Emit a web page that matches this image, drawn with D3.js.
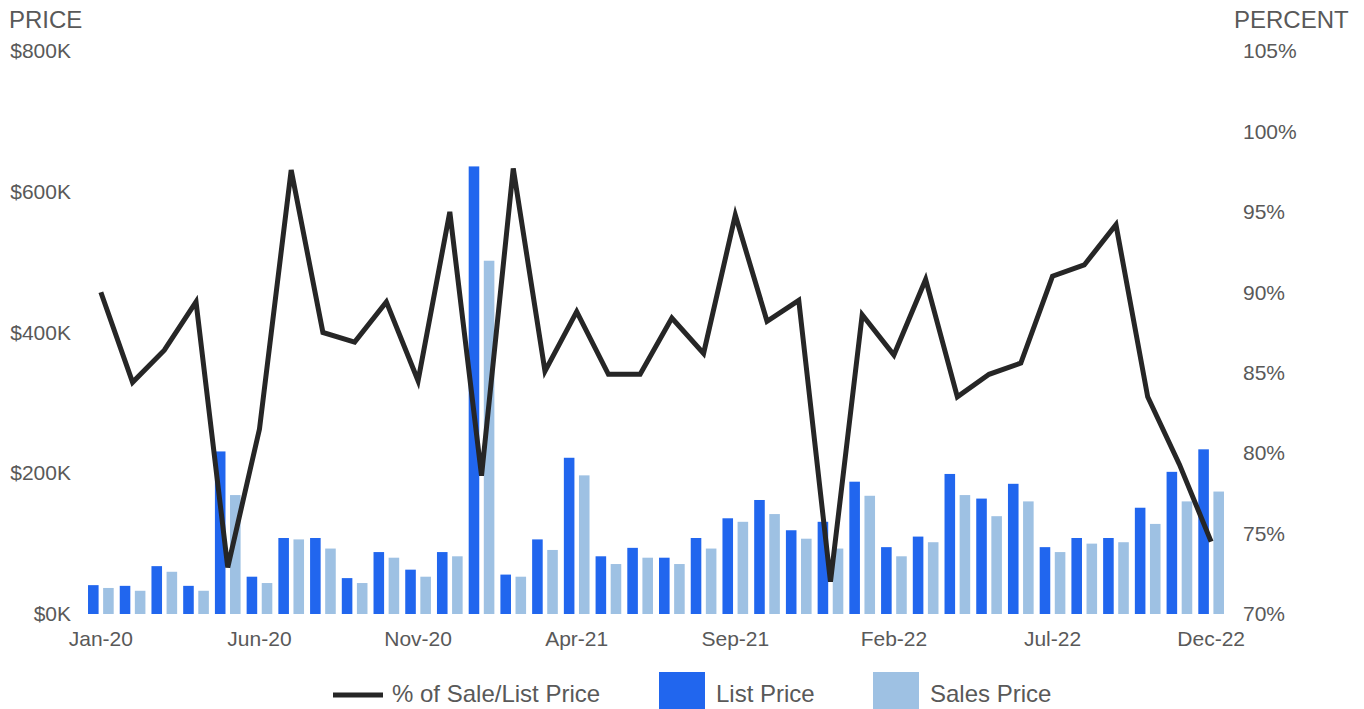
<!DOCTYPE html>
<html>
<head>
<meta charset="utf-8">
<script src="https://cdn.jsdelivr.net/npm/d3@7"></script>
<style>
  body { margin: 0; background: white; }
  text { font-family: "Liberation Sans", Arial, sans-serif; fill: #595959; }
</style>
</head>
<body>
<div id="vis"></div>
<script>
// months on the x axis
let months = ['Jan-20','Feb-20','Mar-20','Apr-20','May-20','Jun-20','Jul-20','Aug-20','Sep-20','Oct-20','Nov-20','Dec-20',
  'Jan-21','Feb-21','Mar-21','Apr-21','May-21','Jun-21','Jul-21','Aug-21','Sep-21','Oct-21','Nov-21','Dec-21',
  'Jan-22','Feb-22','Mar-22','Apr-22','May-22','Jun-22','Jul-22','Aug-22','Sep-22','Oct-22','Nov-22','Dec-22'];

// prices in $K
let listPrice = [41, 40, 68, 40, 231, 53, 108, 108, 51, 88, 63, 88,
  636, 56, 106, 222, 82, 94, 80, 108, 136, 162, 119, 131,
  188, 95, 110, 199, 164, 185, 95, 108, 108, 151, 202, 234];
let salesPrice = [37, 33, 60, 33, 169, 44, 106, 93, 44, 80, 53, 82,
  502, 53, 91, 197, 71, 80, 71, 93, 131, 142, 107, 93,
  168, 82, 102, 169, 139, 160, 88, 100, 102, 128, 160, 174];

// % of sale / list price
let pctSaleList = [90.0, 84.4, 86.4, 89.4, 72.9, 81.5, 97.6, 87.5, 86.9, 89.4, 84.5, 95.0,
  78.6, 97.7, 85.1, 88.8, 84.9, 84.9, 88.4, 86.2, 94.8, 88.2, 89.5, 72.0,
  88.6, 86.1, 90.8, 83.5, 84.9, 85.6, 91.0, 91.7, 94.2, 83.5, 79.3, 74.5];

let xTicks = ['Jan-20','Jun-20','Nov-20','Apr-21','Sep-21','Feb-22','Jul-22','Dec-22'];
let priceTicks = [0, 200, 400, 600, 800];
let pctTicks = [70, 75, 80, 85, 90, 95, 100, 105];

let margin = { top: 51, left: 85, right: 137, bottom: 95 },
  width = 1364 - margin.left - margin.right,
  height = 709 - margin.top - margin.bottom;

let blue = '#2166ee', lightBlue = '#9ec1e3', lineColor = '#262626';

let svg = d3.select('#vis')
  .append('svg')
  .attr('width', 1364)
  .attr('height', 709)

let g = svg.append('g').attr('transform', `translate(${margin.left},${margin.top})`)

let x = d3.scaleBand().domain(months).range([0, width])
let xInner = d3.scaleBand().domain(['list', 'sales']).range([0, x.bandwidth()]).paddingInner(0.3).paddingOuter(0.2)
let yL = d3.scaleLinear().domain([0, 800]).range([height, 0])
let yR = d3.scaleLinear().domain([70, 105]).range([height, 0])

// axes
let leftAxis = g.append('g')
  .call(d3.axisLeft(yL).tickValues(priceTicks).tickSize(0).tickPadding(14).tickFormat(d => '$' + d + 'K'))
leftAxis.select('.domain').remove()

let rightAxis = g.append('g')
  .attr('transform', `translate(${width},0)`)
  .call(d3.axisRight(yR).tickValues(pctTicks).tickSize(0).tickPadding(16).tickFormat(d => d + '%'))
rightAxis.select('.domain').remove()

let bottomAxis = g.append('g')
  .attr('transform', `translate(0,${height})`)
  .call(d3.axisBottom(x).tickValues(xTicks).tickSize(0).tickPadding(17))
bottomAxis.select('.domain').remove()

g.selectAll('.tick text')
  .style('font-size', '21px')
  .style('font-family', '"Liberation Sans", Arial, sans-serif')
  .attr('fill', '#595959')

// bars
g.selectAll('.list')
  .data(listPrice)
  .join('rect')
  .attr('class', 'list')
  .attr('x', (d, i) => x(months[i]) + xInner('list'))
  .attr('y', d => yL(d))
  .attr('width', xInner.bandwidth())
  .attr('height', d => height - yL(d))
  .attr('fill', blue)

g.selectAll('.sales')
  .data(salesPrice)
  .join('rect')
  .attr('class', 'sales')
  .attr('x', (d, i) => x(months[i]) + xInner('sales'))
  .attr('y', d => yL(d))
  .attr('width', xInner.bandwidth())
  .attr('height', d => height - yL(d))
  .attr('fill', lightBlue)

// line
let line = d3.line()
  .x((d, i) => x(months[i]) + x.bandwidth() / 2)
  .y(d => yR(d))

g.append('path')
  .datum(pctSaleList)
  .attr('d', line)
  .attr('fill', 'none')
  .attr('stroke', lineColor)
  .attr('stroke-width', 5)
  .attr('stroke-linejoin', 'miter')

// axis titles
svg.append('text').attr('x', 9).attr('y', 28).style('font-size', '24px').text('PRICE')
svg.append('text').attr('x', 1234).attr('y', 28).style('font-size', '24px').text('PERCENT')

// legend
svg.append('line')
  .attr('x1', 333).attr('x2', 383).attr('y1', 695).attr('y2', 695)
  .attr('stroke', lineColor).attr('stroke-width', 5)
svg.append('text').attr('x', 392).attr('y', 702).style('font-size', '24px').text('% of Sale/List Price')

svg.append('rect').attr('x', 659).attr('y', 672).attr('width', 46).attr('height', 40).attr('fill', blue)
svg.append('text').attr('x', 716).attr('y', 702).style('font-size', '24px').text('List Price')

svg.append('rect').attr('x', 873).attr('y', 672).attr('width', 46).attr('height', 40).attr('fill', lightBlue)
svg.append('text').attr('x', 930).attr('y', 702).style('font-size', '24px').text('Sales Price')
</script>
</body>
</html>
